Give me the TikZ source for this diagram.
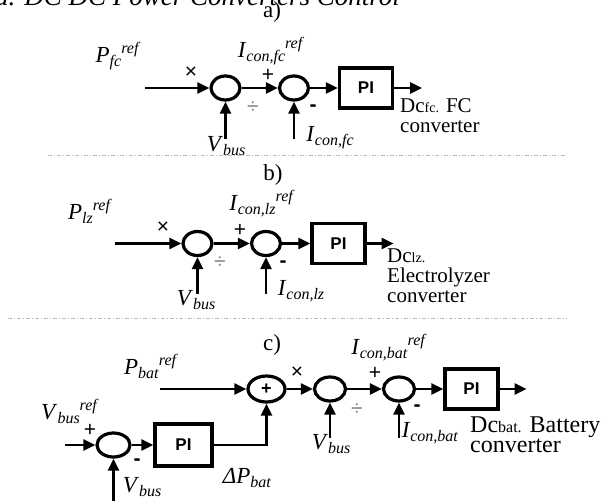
\documentclass[tikz,border=0pt]{standalone}
\usepackage{fontspec}
\setmainfont{Liberation Serif}
\newfontfamily\sansfnt{Liberation Sans}
\usetikzlibrary{shapes.geometric, positioning, arrows.meta}

% variable with lowered index and raised tag
\newcommand{\siglbl}[3]{\textit{#1}{\fontsize{16}{16}\selectfont\raisebox{-4pt}{\textit{#2}}\raisebox{9pt}{\textit{#3}}}}

\begin{document}
\begin{tikzpicture}[
    x=1pt, y=-1pt,
    >={Triangle[length=12pt, width=11pt]},
    wire/.style={line width=2.6pt},
    junc/.style={ellipse, draw, line width=3.2pt, minimum width=29pt, minimum height=24pt, inner sep=0pt},
    pibox/.style={rectangle, draw, line width=3.2pt, minimum width=53pt, minimum height=40pt, font=\sansfnt\bfseries\fontsize{17}{17}\selectfont},
    lbl/.style={inner sep=0pt, font=\fontsize{23}{23}\selectfont},
    sgn/.style={inner sep=0pt, font=\sansfnt\fontsize{21}{21}\selectfont},
    outlbl/.style={inner sep=0pt, align=left, anchor=west, font=\fontsize{21}{20}\selectfont},
    sep/.style={gray!55, line width=0.9pt, dash pattern=on 4pt off 2pt on 1pt off 2pt}
]
\useasboundingbox (0,0) rectangle (601,500);

% heading, cut at the top edge
\node[anchor=base east, inner sep=0pt, font=\itshape\fontsize{27}{27}\selectfont] (title) at (400,6) {a. DC DC Power Converters Control};

% a) fuel cell converter
\node[lbl] (capA) at (272,12) {a)};
\node[junc] (divA) at (225.5,88) {};
\node[junc] (subA) at (294,88) {};
\node[pibox] (piA) at (366,88) {PI};
\coordinate (inA) at (145,88);
\coordinate[right=28pt of piA] (outA);
\coordinate[below=37pt of divA] (vbA);
\coordinate[below=37pt of subA] (icA);

\draw[wire,->] (inA) -- (divA);
\draw[wire,->] (divA) -- (subA);
\draw[wire,->] (subA) -- (piA);
\draw[wire,->] (piA) -- (outA);
\draw[wire,->] (vbA) -- (divA);
\draw[wire,->] (icA) -- (subA);

\node[lbl] (pA) at (118,56) {\siglbl{P}{fc}{ref}};
\node[lbl] (irA) at (271,51) {\siglbl{I}{con,fc}{ref}};
\node[lbl] (vA) at (226,146) {\siglbl{V}{bus}{}};
\node[lbl] (iA) at (330,138) {\siglbl{I}{con,fc}{}};
\node[sgn] (mulA) at (191,73) {×};
\node[sgn, gray] (dvA) at (253,108) {÷};
\node[sgn] (plA) at (268,75) {+};
\node[sgn] (mnA) at (313,108) {\textbf{-}};
\node[outlbl] (dcA) at (400,116) {Dc{\fontsize{14}{14}\selectfont fc.} FC\\converter};

\draw[sep] (48,155) -- (567,155);

% b) electrolyzer converter
\node[lbl] (capB) at (273,175) {b)};
\node[junc] (divB) at (197.5,243.5) {};
\node[junc] (subB) at (266,243.5) {};
\node[pibox] (piB) at (338.5,243.5) {PI};
\coordinate (inB) at (115,243.5);
\coordinate[right=27pt of piB] (outB);
\coordinate[below=37pt of divB] (vbB);
\coordinate[below=37pt of subB] (icB);

\draw[wire,->] (inB) -- (divB);
\draw[wire,->] (divB) -- (subB);
\draw[wire,->] (subB) -- (piB);
\draw[wire,->] (piB) -- (outB);
\draw[wire,->] (vbB) -- (divB);
\draw[wire,->] (icB) -- (subB);

\node[lbl] (pB) at (90,211) {\siglbl{P}{lz}{ref}};
\node[lbl] (irB) at (262,204) {\siglbl{I}{con,lz}{ref}};
\node[lbl] (vB) at (196,300) {\siglbl{V}{bus}{}};
\node[lbl] (iB) at (301,291) {\siglbl{I}{con,lz}{}};
\node[sgn] (mulB) at (163,228) {×};
\node[sgn, gray] (dvB) at (220,263) {÷};
\node[sgn] (plB) at (240,230) {+};
\node[sgn] (mnB) at (283,264) {\textbf{-}};
\node[outlbl] (dcB) at (387,276) {Dc{\fontsize{14}{14}\selectfont lz.}\\Electrolyzer\\converter};

\draw[sep] (8,318) -- (567,318);

% c) battery converter
\node[lbl] (capC) at (272,345) {c)};
\node[junc, minimum width=37pt, minimum height=26pt, font=\sansfnt\bfseries\fontsize{18}{18}\selectfont] (sumC) at (266.5,389) {+};
\node[junc, minimum width=31pt] (divC) at (330,389) {};
\node[junc, minimum width=31pt] (subC) at (399,389) {};
\node[pibox] (piC) at (471.5,389) {PI};
\coordinate (inC) at (160,389);
\coordinate[right=27pt of piC] (outC);
\coordinate[below=35pt of divC] (vbC);
\coordinate[below=35pt of subC] (icC);

\node[junc, minimum width=33pt] (subV) at (113.5,445) {};
\node[pibox, minimum width=57pt, minimum height=42pt] (piV) at (183.5,445) {PI};
\coordinate (inV) at (65,445);
\coordinate[below=43pt of subV] (vbV);

\draw[wire,->] (inC) -- (sumC);
\draw[wire,->] (sumC) -- (divC);
\draw[wire,->] (divC) -- (subC);
\draw[wire,->] (subC) -- (piC);
\draw[wire,->] (piC) -- (outC);
\draw[wire,->] (vbC) -- (divC);
\draw[wire,->] (icC) -- (subC);
\draw[wire,->] (inV) -- (subV);
\draw[wire,->] (subV) -- (piV);
\draw[wire,->] (vbV) -- (subV);
\draw[wire,->] (piV) -| (sumC);

\node[lbl] (pC) at (151,366) {\siglbl{P}{bat}{ref}};
\node[lbl] (irC) at (389,348) {\siglbl{I}{con,bat}{ref}};
\node[lbl] (vC) at (331,444) {\siglbl{V}{bus}{}};
\node[lbl] (iC) at (430,433) {\siglbl{I}{con,bat}{}};
\node[lbl] (vrV) at (70,411) {\siglbl{V}{bus}{ref}};
\node[lbl] (vV) at (142,487) {\siglbl{V}{bus}{}};
\node[lbl] (dP) at (247,478) {\siglbl{ΔP}{bat}{}};
\node[sgn] (mulC) at (297,373) {×};
\node[sgn, gray] (dvC) at (357,410) {÷};
\node[sgn] (plC) at (375,373) {+};
\node[sgn] (mnC) at (417,408) {\textbf{-}};
\node[sgn] (plV) at (90,430) {+};
\node[sgn] (mnV) at (137,462) {\textbf{-}};
\node[outlbl, font=\fontsize{24}{18}\selectfont] (dcC) at (470,435) {Dc{\fontsize{16}{16}\selectfont bat.} Battery\\converter};

\end{tikzpicture}
\end{document}
